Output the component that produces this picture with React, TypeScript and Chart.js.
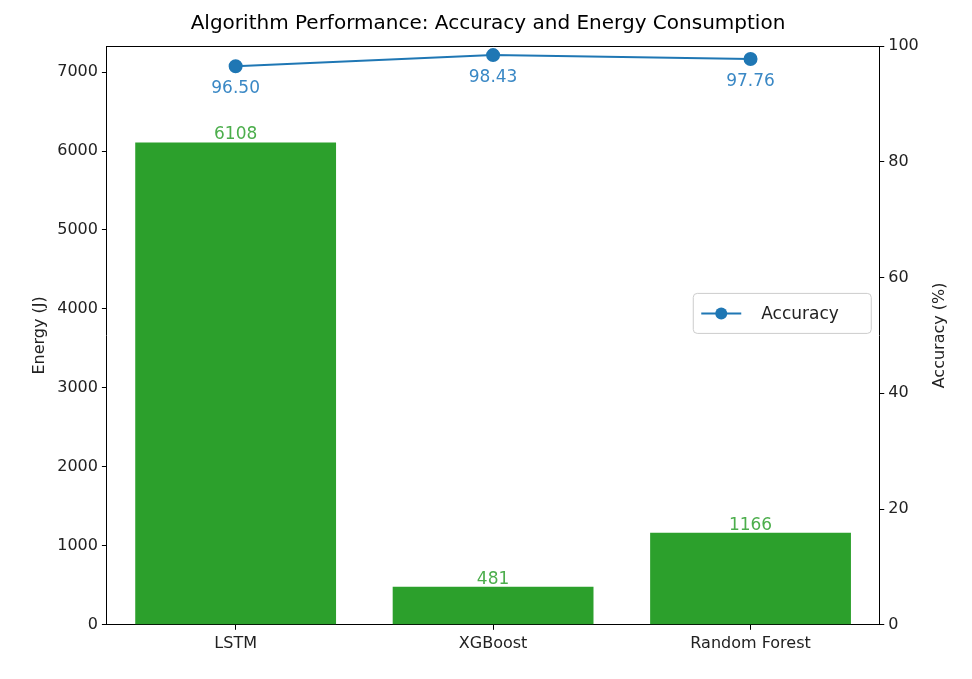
import { useEffect, useRef } from 'react'
import Chart from 'chart.js/auto'

const algorithms = ['LSTM', 'XGBoost', 'Random Forest']
const energy = [6108, 481, 1166]
const accuracy = [96.5, 98.43, 97.76]
const energyTicks = [0, 1000, 2000, 3000, 4000, 5000, 6000, 7000]

const FONT = '"DejaVu Sans", sans-serif'

export default function App() {
  const canvasRef = useRef<HTMLCanvasElement>(null)

  useEffect(() => {
    if (!canvasRef.current) return
    const chart = new Chart(canvasRef.current, {
      type: 'bar',
      data: {
        labels: algorithms,
        datasets: [
          {
            type: 'line',
            label: 'Accuracy',
            data: accuracy,
            yAxisID: 'y1',
            borderColor: '#1f77b4',
            backgroundColor: '#1f77b4',
            borderWidth: 2,
            pointRadius: 6,
            order: 0,
          },
          {
            type: 'bar',
            label: 'Energy',
            data: energy,
            yAxisID: 'y',
            backgroundColor: '#2ca02c',
            borderWidth: 0,
            barPercentage: 0.78,
            categoryPercentage: 1,
            order: 1,
          },
        ],
      },
      options: {
        animation: false,
        responsive: true,
        maintainAspectRatio: false,
        layout: { padding: { left: 26, right: 22, top: 0, bottom: 22 } },
        plugins: {
          legend: { display: false },
          tooltip: { enabled: false },
          title: {
            display: true,
            text: 'Algorithm Performance: Accuracy and Energy Consumption',
            color: '#000',
            font: { family: FONT, size: 20, weight: 'normal' },
            padding: { top: 12, bottom: 10 },
          },
        },
        scales: {
          x: {
            grid: { drawOnChartArea: false, tickLength: 5, color: '#000', offset: false },
            border: { color: '#000' },
            ticks: { color: '#222', font: { family: FONT, size: 16 }, padding: 4 },
          },
          y: {
            position: 'left',
            min: 0,
            max: 7330,
            afterBuildTicks: (s) => {
              s.ticks = energyTicks.map((v) => ({ value: v }))
            },
            grid: { drawOnChartArea: false, tickLength: 5, color: '#000' },
            border: { color: '#000' },
            ticks: { color: '#222', font: { family: FONT, size: 16 }, padding: 4, callback: (v) => String(v) },
            title: { display: true, text: 'Energy (J)', color: '#222', font: { family: FONT, size: 16 } },
          },
          y1: {
            position: 'right',
            min: 0,
            max: 100,
            ticks: { stepSize: 20, color: '#222', font: { family: FONT, size: 16 }, padding: 4 },
            grid: { drawOnChartArea: false, tickLength: 5, color: '#000' },
            border: { color: '#000' },
            title: { display: true, text: 'Accuracy (%)', color: 'rgba(0,0,0,0)', font: { family: FONT, size: 16 } },
          },
        },
      },
      plugins: [
        {
          id: 'extras',
          afterDatasetsDraw: (c) => {
            const ctx = c.ctx
            const a = c.chartArea
            ctx.save()
            ctx.strokeStyle = '#000'
            ctx.lineWidth = 1
            ctx.beginPath()
            ctx.moveTo(a.left, a.top + 0.5)
            ctx.lineTo(a.right, a.top + 0.5)
            ctx.stroke()
            // right axis title, reading bottom to top
            const ry = c.scales.y1
            ctx.save()
            ctx.translate(ry.right - 10, (a.top + a.bottom) / 2)
            ctx.rotate(-Math.PI / 2)
            ctx.fillStyle = '#222'
            ctx.font = `16px ${FONT}`
            ctx.textAlign = 'center'
            ctx.textBaseline = 'middle'
            ctx.fillText('Accuracy (%)', 0, 0)
            ctx.restore()
            ctx.font = `17px ${FONT}`
            ctx.textAlign = 'center'
            const bars = c.getDatasetMeta(1)
            bars.data.forEach((b, i) => {
              ctx.fillStyle = '#4cae4c'
              ctx.textBaseline = 'bottom'
              ctx.fillText(String(energy[i]), b.x, b.y + 1)
            })
            const pts = c.getDatasetMeta(0)
            pts.data.forEach((p, i) => {
              ctx.fillStyle = '#3a88c5'
              ctx.textBaseline = 'top'
              ctx.fillText(accuracy[i].toFixed(2), p.x, p.y + 14)
            })
            // legend
            const lx = a.right - 186
            const ly = (a.top + a.bottom) / 2 - 42
            ctx.fillStyle = 'rgba(255,255,255,0.85)'
            ctx.strokeStyle = '#ccc'
            ctx.lineWidth = 1
            ctx.beginPath()
            ctx.roundRect(lx, ly, 178, 40, 4)
            ctx.fill()
            ctx.stroke()
            ctx.strokeStyle = '#1f77b4'
            ctx.lineWidth = 2
            ctx.beginPath()
            ctx.moveTo(lx + 8, ly + 20)
            ctx.lineTo(lx + 48, ly + 20)
            ctx.stroke()
            ctx.fillStyle = '#1f77b4'
            ctx.beginPath()
            ctx.arc(lx + 28, ly + 20, 6, 0, Math.PI * 2)
            ctx.fill()
            ctx.fillStyle = '#222'
            ctx.textAlign = 'left'
            ctx.textBaseline = 'middle'
            ctx.font = `17px ${FONT}`
            ctx.fillText('Accuracy', lx + 68, ly + 21)
            ctx.restore()
          },
        },
      ],
    })
    return () => chart.destroy()
  }, [])

  return (
    <div style={{ position: 'absolute', left: 0, top: 0, width: 972, height: 679, background: '#fff' }}>
      <canvas ref={canvasRef} />
    </div>
  )
}
